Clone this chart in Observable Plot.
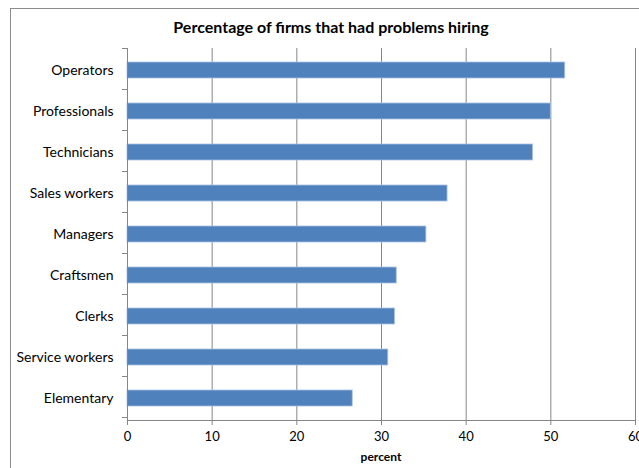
<!DOCTYPE html>
<html>
<head>
<meta charset="utf-8">
<script src="https://cdn.jsdelivr.net/npm/d3@7"></script>
<script src="https://cdn.jsdelivr.net/npm/@observablehq/plot@0.6"></script>
<style>
  html, body { margin: 0; padding: 0; background: #fff; overflow: hidden; }
  #wrap { position: relative; width: 639px; height: 468px; overflow: hidden; font-family: Lato, "Open Sans", sans-serif; }
  #box { position: absolute; left: 10px; top: 8px; width: 720px; height: 520px; border: 1px solid #8c8c8c; box-sizing: border-box; }
  #title { position: absolute; left: 10px; width: 642px; top: 17px; text-align: center; font-weight: bold; font-size: 16px; color: #000; }
  #xlabel { position: absolute; left: 127px; width: 508px; top: 449px; text-align: center; font-weight: bold; font-size: 12px; color: #000; }
  #chart { position: absolute; left: 0; top: 0; }
</style>
</head>
<body>
<div id="wrap">
  <div id="box"></div>
  <div id="chart"></div>
  <div id="title">Percentage of firms that had problems hiring</div>
  <div id="xlabel">percent</div>
</div>
<script>
const categories = ["Operators", "Professionals", "Technicians", "Sales workers", "Managers", "Craftsmen", "Clerks", "Service workers", "Elementary"];
const values = [51.7, 50.0, 47.9, 37.8, 35.3, 31.8, 31.6, 30.8, 26.6];
const xTicks = [0, 10, 20, 30, 40, 50, 60];

const data = categories.map((c, i) => ({category: c, value: values[i]}));

// small tick marks on the category axis at the band boundaries
function bandBoundaryTicks(index, scales, values, dims) {
  const y = scales.y;
  const r = y.range();
  const r0 = Math.min(r[0], r[1]);
  const step = y.step ? y.step() : (dims.height - dims.marginTop - dims.marginBottom) / categories.length;
  const g = d3.create("svg:g");
  for (let k = 0; k <= categories.length; k++) {
    const yy = Math.round(r0 + k * step) + 0.5;
    g.append("line")
      .attr("x1", dims.marginLeft - 5).attr("x2", dims.marginLeft)
      .attr("y1", yy).attr("y2", yy)
      .attr("stroke", "#868686");
  }
  return g.node();
}

const chart = Plot.plot({
  width: 639,
  height: 468,
  marginLeft: 127,
  marginRight: 4,
  marginTop: 48,
  marginBottom: 48,
  style: {background: "transparent", fontFamily: "Lato, 'Open Sans', sans-serif", color: "#000"},
  x: {domain: [0, 60], ticks: xTicks},
  y: {domain: categories, paddingInner: 0.6, paddingOuter: 0.3, align: 0.5},
  marks: [
    Plot.gridX(xTicks, {stroke: "#868686", strokeOpacity: 1}),
    Plot.barX(data, {x: "value", y: "category", fill: "#4f81bd", stroke: "#a9c1df", strokeWidth: 0.8}),
    Plot.frame({anchor: "bottom", stroke: "#868686"}),
    Plot.ruleX([0], {stroke: "#868686"}),
    Plot.axisX(xTicks, {tickSize: 5, tickPadding: 6, fontSize: 13, label: null, stroke: "#868686"}),
    Plot.axisY({tickSize: 0, tickPadding: 14, fontSize: 14, label: null}),
    bandBoundaryTicks
  ]
});
document.getElementById("chart").appendChild(chart);
</script>
</body>
</html>
